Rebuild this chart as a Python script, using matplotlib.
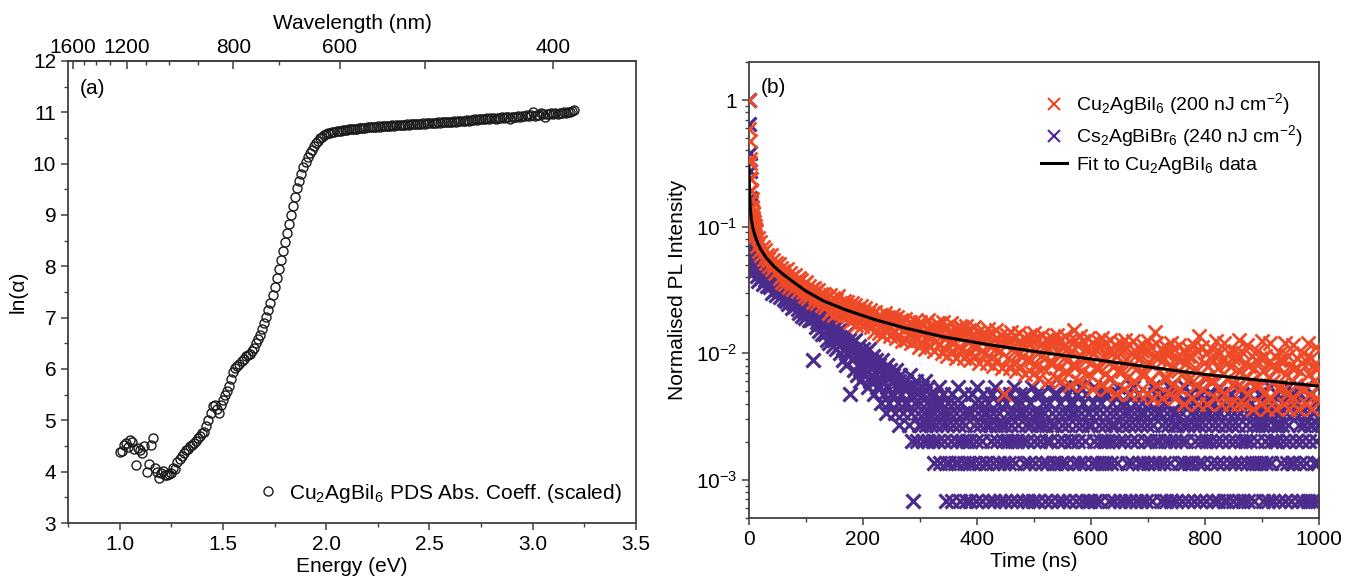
import numpy as np
import matplotlib
matplotlib.use('Agg')
import matplotlib.pyplot as plt
from matplotlib.ticker import MultipleLocator, FixedLocator, LogLocator, FuncFormatter, NullFormatter

plt.rcParams['font.family'] = ['Liberation Sans', 'DejaVu Sans']
plt.rcParams['mathtext.default'] = 'regular'
plt.rcParams['font.size'] = 15

# ---------------- (a) PDS absorption ----------------
# energy grid of the PDS scan (eV), one value every 0.01 eV
energy_start, energy_step = 1.00, 0.01
ln_alpha = [
    4.38, 4.40, 4.52, 4.56, 4.48, 4.62, 4.58, 4.45, 4.13, 4.47,
    4.42, 4.36, 4.50, 4.00, 4.15, 4.52, 4.66, 4.07, 4.00, 3.88,
    3.98, 4.02, 3.93, 3.94, 3.96, 3.98, 4.08, 4.05, 4.18, 4.25,
    4.30, 4.37, 4.42, 4.45, 4.50, 4.52, 4.56, 4.60, 4.65, 4.70,
    4.75, 4.78, 4.88, 5.00, 5.15, 5.27, 5.30, 5.22, 5.15, 5.30,
    5.40, 5.50, 5.58, 5.66, 5.80, 5.95, 6.02, 6.06, 6.10, 6.15,
    6.20, 6.25, 6.28, 6.30, 6.35, 6.40, 6.50, 6.58, 6.66, 6.78,
    6.90, 7.02, 7.14, 7.28, 7.45, 7.60, 7.78, 7.95, 8.12, 8.30,
    8.48, 8.65, 8.82, 9.00, 9.18, 9.36, 9.52, 9.66, 9.80, 9.93,
    10.04, 10.12, 10.20, 10.27, 10.34, 10.40, 10.45, 10.49, 10.52, 10.55,
    10.57, 10.59, 10.60, 10.61, 10.62, 10.63, 10.64, 10.64, 10.65, 10.66,
    10.66, 10.67, 10.67, 10.68, 10.68, 10.68, 10.69, 10.69, 10.70, 10.70,
    10.71, 10.71, 10.72, 10.71, 10.72, 10.73, 10.72, 10.73, 10.74, 10.73,
    10.74, 10.74, 10.75, 10.74, 10.75, 10.76, 10.75, 10.76, 10.76, 10.77,
    10.76, 10.77, 10.77, 10.78, 10.77, 10.78, 10.78, 10.79, 10.78, 10.79,
    10.79, 10.80, 10.79, 10.80, 10.81, 10.80, 10.81, 10.81, 10.82, 10.81,
    10.82, 10.82, 10.83, 10.82, 10.83, 10.84, 10.83, 10.84, 10.85, 10.84,
    10.85, 10.85, 10.86, 10.85, 10.86, 10.87, 10.86, 10.87, 10.88, 10.87,
    10.88, 10.88, 10.86, 10.89, 10.88, 10.90, 10.89, 10.90, 10.91, 10.87,
    10.90, 10.91, 10.90, 10.92, 10.91, 10.93, 10.92, 10.94, 10.93, 10.95,
    11.00, 10.93, 10.95, 10.94, 10.98, 10.96, 10.90, 10.97, 10.96, 10.98,
    10.97, 10.98, 10.97, 10.99, 10.98, 11.00, 10.99, 11.01, 11.00, 11.02,
    11.05]
energy = energy_start + energy_step*np.arange(len(ln_alpha))

wl_major = [1600, 1200, 800, 600, 500, 400]
wl_major_labels = ['1600', '1200', '800', '600', '', '400']
wl_minor = [1500, 1400, 1300, 1100, 1000, 900, 700]

# ---------------- (b) TRPL ----------------
# photon counts per bin; fast part every 0.5 ns from 0, slow part from 12 ns
fast_step = 0.5
slow_start = 12.0
red_step = 2.0
purple_step = 1.5

red_fast = [2500, 1480, 1190, 860, 790, 610, 600, 490, 480, 405, 410, 350,
            360, 312, 322, 282, 295, 258, 272, 240, 252, 226, 238, 212]
red_slow = [
    230, 175, 205, 160, 190, 150, 172, 140, 165, 128, 150, 138, 122, 148, 115, 136, 125, 108, 130, 112,
    126, 98, 118, 92, 112, 104, 88, 115, 96, 84, 108, 92, 100, 80, 104, 87, 95, 78, 99, 83,
    94, 76, 88, 71, 92, 78, 68, 85, 73, 80, 64, 82, 70, 77, 62, 79, 68, 74, 60, 72,
    74, 58, 70, 61, 52, 72, 63, 56, 68, 50, 66, 59, 71, 53, 62, 57, 48, 65, 55, 60,
    64, 49, 58, 44, 62, 52, 47, 60, 42, 56, 50, 45, 59, 41, 54, 48, 57, 43, 52, 46,
    55, 40, 51, 45, 37, 53, 43, 49, 36, 50, 41, 47, 35, 52, 44, 38, 48, 42, 34, 46,
    50, 37, 45, 33, 48, 40, 35, 46, 31, 43, 38, 47, 32, 41, 36, 44, 30, 42, 37, 34,
    45, 32, 41, 28, 44, 36, 30, 42, 27, 39, 34, 46, 29, 38, 33, 40, 26, 37, 31, 43,
    42, 29, 38, 25, 44, 33, 27, 40, 24, 36, 31, 43, 26, 35, 30, 39, 23, 34, 28, 41,
    39, 27, 36, 23, 41, 31, 25, 38, 22, 34, 29, 40, 24, 33, 28, 37, 21, 32, 26, 35,
    37, 25, 34, 21, 39, 29, 23, 36, 20, 32, 27, 38, 22, 31, 26, 35, 19, 30, 12, 33,
    35, 23, 32, 19, 37, 27, 21, 34, 18, 30, 25, 36, 20, 29, 24, 33, 17, 28, 22, 31,
    34, 22, 31, 17, 36, 26, 20, 33, 16, 29, 24, 35, 19, 28, 23, 32, 15, 27, 21, 30,
    33, 21, 30, 16, 35, 25, 19, 32, 15, 28, 23, 34, 18, 27, 22, 31, 14, 26, 20, 38,
    32, 20, 29, 15, 34, 24, 18, 31, 14, 27, 22, 33, 17, 26, 21, 30, 13, 25, 19, 28,
    31, 19, 28, 14, 33, 23, 17, 30, 13, 26, 21, 32, 16, 25, 20, 29, 12, 24, 18, 27,
    30, 18, 27, 13, 32, 22, 16, 29, 12, 25, 20, 31, 15, 24, 19, 28, 12, 23, 17, 26,
    29, 17, 26, 12, 31, 21, 15, 28, 11, 24, 37, 30, 14, 23, 18, 27, 11, 22, 16, 25,
    28, 16, 25, 12, 30, 20, 14, 27, 11, 23, 18, 29, 13, 22, 17, 26, 10, 21, 15, 24,
    27, 16, 24, 11, 29, 19, 14, 26, 10, 34, 17, 28, 13, 21, 16, 25, 10, 20, 15, 23,
    27, 15, 24, 11, 31, 19, 13, 25, 10, 22, 17, 30, 12, 21, 16, 25, 10, 20, 14, 23,
    26, 15, 23, 10, 32, 18, 13, 25, 10, 21, 16, 29, 12, 20, 15, 24, 9, 19, 14, 22,
    26, 14, 23, 10, 31, 18, 12, 24, 9, 21, 16, 30, 11, 20, 15, 24, 9, 19, 13, 22,
    25, 14, 22, 10, 30, 17, 12, 24, 9, 20, 15, 29, 11, 19, 14, 23, 9, 18, 13, 21,
    25, 13, 22, 10, 30, 17, 12, 23, 9, 20, 15, 28, 11, 19, 14]

purple_fast = [1480, 960, 560, 410, 250, 220, 160, 155, 128, 126, 106, 110,
               94, 97, 85, 90, 79, 84, 73, 78, 69, 74, 66, 71]
purple_slow = [
    # 12 - 298.5 ns
    78, 60, 71, 55, 66, 74, 58, 63, 52, 70, 61, 56, 67, 50, 62, 58,
    60, 49, 57, 44, 53, 62, 47, 51, 43, 56, 48, 52, 41, 55, 46, 50,
    49, 40, 46, 38, 52, 42, 36, 45, 39, 47, 34, 43, 37, 44, 35, 41,
    40, 33, 38, 31, 42, 35, 29, 37, 32, 39, 28, 34, 31, 36, 27, 33,
    32, 27, 30, 13, 28, 33, 24, 29, 26, 31, 22, 27, 25, 30, 21, 26,
    27, 21, 25, 19, 28, 22, 18, 24, 20, 26, 17, 23, 19, 25, 16, 21,
    22, 17, 20, 15, 23, 18, 13, 19, 16, 21, 12, 17, 15, 19, 7, 16,
    18, 13, 16, 11, 19, 14, 10, 15, 12, 17, 9, 14, 12, 16, 10, 13,
    15, 11, 13, 8, 16, 12, 9, 13, 10, 14, 7, 12, 9, 13, 8, 11,
    12, 8, 11, 6, 13, 9, 7, 10, 5, 12, 8, 10, 6, 11, 7, 9,
    10, 7, 9, 5, 11, 8, 6, 9, 4, 10, 7, 8, 5, 9, 6, 8,
    9, 6, 8, 4, 10, 7, 5, 3, 1, 8, 6, 9, 3, 7, 5, 4,
    # 300 - 385.5 ns
    6, 4, 8, 3, 7, 5, 9, 4, 6, 3, 8, 5, 7, 4, 6, 3,
    5, 2, 7, 4, 6, 3, 8, 5, 2, 6, 4, 7, 3, 5, 2, 1,
    4, 6, 2, 5, 3, 7, 1, 4, 6, 2, 5, 3, 8, 2, 4, 1,
    6, 3, 5, 2, 7, 4, 1, 3, 5, 2,
    # 387 - 999 ns
    3, 1, 5, 7, 2, 4, 6, 1, 3, 8, 5, 2, 4, 6, 1, 3, 7, 5, 2, 4,
    5, 2, 6, 1, 4, 3, 7, 2, 5, 1, 8, 4, 3, 6, 2, 5, 1, 4, 7, 3,
    2, 4, 1, 6, 3, 5, 2, 7, 1, 4, 3, 5, 8, 2, 6, 1, 3, 4, 5, 7,
    6, 3, 5, 1, 2, 7, 4, 3, 1, 5, 2, 6, 4, 8, 1, 3, 5, 2, 7, 4,
    1, 5, 3, 4, 7, 2, 6, 5, 1, 3, 4, 2, 8, 6, 3, 1, 5, 4, 2, 7,
    4, 2, 7, 3, 1, 5, 6, 2, 4, 1, 3, 8, 5, 2, 7, 4, 1, 6, 3, 5,
    3, 6, 2, 5, 1, 4, 7, 3, 2, 8, 5, 1, 4, 6, 2, 3, 7, 1, 5, 4,
    5, 1, 4, 2, 6, 3, 8, 1, 5, 2, 7, 4, 3, 1, 6, 2, 5, 3, 4, 7,
    2, 7, 3, 1, 5, 4, 2, 6, 3, 1, 4, 5, 7, 2, 8, 3, 1, 6, 4, 5,
    4, 3, 1, 6, 2, 5, 7, 4, 1, 3, 2, 8, 5, 4, 6, 1, 3, 7, 2, 5,
    1, 4, 6, 2, 5, 3, 1, 7, 4, 2, 6, 3, 5, 1, 8, 4, 2, 7, 3, 5,
    6, 2, 3, 5, 1, 4, 7, 2, 6, 3, 1, 5, 4, 8, 2, 3, 1, 7, 5, 4,
    3, 5, 1, 4, 7, 2, 6, 3, 1, 5, 4, 2, 8, 3, 6, 1, 4, 2, 7, 5,
    2, 6, 4, 1, 3, 5, 8, 2, 4, 1, 7, 3, 5, 2, 6, 4, 1, 3, 5, 7,
    5, 3, 2, 7, 4, 1, 6, 5, 3, 2, 4, 1, 8, 5, 7, 3, 2, 6, 1, 4,
    4, 1, 5, 3, 6, 2, 7, 4, 1, 5, 3, 2, 6, 8, 4, 1, 5, 3, 2, 7,
    1, 6, 3, 4, 2, 5, 1, 7, 3, 6, 2, 4, 5, 1, 8, 2, 3, 4, 7, 5,
    7, 2, 4, 1, 5, 3, 6, 2, 4, 1, 5, 8, 3, 2, 6, 1, 4, 3, 5, 7,
    3, 4, 1, 5, 2, 6, 4, 3, 7, 1, 5, 2, 8, 4, 3, 6, 1, 2, 5, 7,
    2, 5, 3, 6, 1, 4, 7, 2, 5, 3, 1, 4, 6, 2, 8, 5, 1, 3, 4, 7,
    4, 1, 5, 2, 6, 3, 1, 4, 2]

fit_t = [0, 1, 2, 4, 7, 10, 15, 20, 30, 45, 60, 80, 100, 130, 170, 220,
         270, 340, 420, 510, 600, 700, 800, 900, 1000]
fit_v = [0.30, 0.20, 0.15, 0.115, 0.097, 0.087, 0.075, 0.067, 0.057, 0.048,
         0.042, 0.036, 0.031, 0.026, 0.022, 0.0185, 0.0160, 0.0135, 0.0117,
         0.0102, 0.0090, 0.0078, 0.0068, 0.0061, 0.0055]

red_c = np.array(red_fast + red_slow, float)
red_t = np.concatenate([fast_step*np.arange(len(red_fast)),
                        slow_start + red_step*np.arange(len(red_slow))])
pur_c = np.array(purple_fast + purple_slow, float)
pur_t = np.concatenate([fast_step*np.arange(len(purple_fast)),
                        slow_start + purple_step*np.arange(len(purple_slow))])
red_n = red_c/red_c.max()
pur_n = pur_c/pur_c.max()

RED = '#ee4a28'
PURPLE = '#4b2b8c'
AXC = '0.25'

fig = plt.figure(figsize=(13.47, 5.79), dpi=100)

#### panel a
ax1 = fig.add_axes([0.0505, 0.0967, 0.4217, 0.798])
ax1.plot(energy, ln_alpha, 'o', ms=6.5, mfc='none', mec='0.1', mew=1.0,
         label='Cu$_2$AgBiI$_6$ PDS Abs. Coeff. (scaled)')
ax1.set_xlim(0.75, 3.5)
ax1.set_ylim(3, 12)
ax1.xaxis.set_major_locator(MultipleLocator(0.5))
ax1.xaxis.set_minor_locator(MultipleLocator(0.25))
ax1.xaxis.set_major_formatter(FuncFormatter(lambda v, p: '%.1f' % v))
ax1.yaxis.set_major_locator(MultipleLocator(1))
ax1.yaxis.set_minor_locator(MultipleLocator(0.5))
ax1.tick_params(which='both', direction='out', top=False, right=False, color=AXC)
ax1.tick_params(which='major', length=5, width=1.1)
ax1.tick_params(which='minor', length=3, width=1)
ax1.set_xlabel('Energy (eV)', labelpad=2)
ax1.set_ylabel('ln(α)', labelpad=4)
for s in ax1.spines.values():
    s.set_color(AXC)
    s.set_linewidth(1.3)
ax1.text(0.02, 0.94, '(a)', transform=ax1.transAxes, va='center', ha='left')
ax1.legend(loc='lower right', bbox_to_anchor=(0.975, 0.04), frameon=False,
           numpoints=1, borderpad=0, borderaxespad=0, handlelength=1.0,
           handletextpad=0.5)

def e2wl(e):
    with np.errstate(divide='ignore'):
        return 1239.84/np.asarray(e, float)

top = ax1.secondary_xaxis('top', functions=(e2wl, e2wl))
top.xaxis.set_major_locator(FixedLocator(wl_major))
top.xaxis.set_minor_locator(FixedLocator(wl_minor))
top.set_xticklabels(wl_major_labels)
top.tick_params(which='both', direction='in', color=AXC, pad=3)
top.tick_params(which='major', length=6, width=1.1)
top.tick_params(which='minor', length=3, width=1)
top.set_xlabel('Wavelength (nm)', labelpad=6)
top.spines['top'].set_color(AXC)
top.spines['top'].set_linewidth(1.3)

#### panel b
ax2 = fig.add_axes([0.556, 0.1054, 0.4232, 0.7876])
ax2.plot(pur_t, pur_n, 'x', ms=10, mew=2.3, color=PURPLE, zorder=2,
         label='Cs$_2$AgBiBr$_6$ (240 nJ cm$^{-2}$)')
ax2.plot(red_t, red_n, 'x', ms=10, mew=2.0, color=RED, zorder=3,
         label='Cu$_2$AgBiI$_6$ (200 nJ cm$^{-2}$)')
ax2.plot(fit_t, fit_v, '-', color='black', lw=2.2, zorder=4,
         label='Fit to Cu$_2$AgBiI$_6$ data')
ax2.set_yscale('log')
ax2.set_xlim(0, 1000)
ax2.set_ylim(5e-4, 2)
ax2.xaxis.set_major_locator(MultipleLocator(200))
ax2.xaxis.set_minor_locator(MultipleLocator(100))
ax2.yaxis.set_major_locator(LogLocator(base=10, numticks=10))
ax2.yaxis.set_minor_locator(LogLocator(base=10, subs=np.arange(2, 10), numticks=20))
ax2.yaxis.set_minor_formatter(NullFormatter())

def logfmt(v, p):
    e = int(round(np.log10(v)))
    return '1' if e == 0 else '10$^{%d}$' % e

ax2.yaxis.set_major_formatter(FuncFormatter(logfmt))
ax2.tick_params(which='both', direction='out', top=False, right=False, color=AXC)
ax2.tick_params(which='major', length=5, width=1.1)
ax2.tick_params(which='minor', length=3, width=1)
ax2.set_xlabel('Time (ns)', labelpad=2)
ax2.set_ylabel('Normalised PL Intensity', labelpad=6)
for s in ax2.spines.values():
    s.set_color(AXC)
    s.set_linewidth(1.3)
ax2.text(0.02, 0.945, '(b)', transform=ax2.transAxes, va='center', ha='left')
h, l = ax2.get_legend_handles_labels()
leg = ax2.legend([h[1], h[0], h[2]], [l[1], l[0], l[2]], loc='upper left',
                 bbox_to_anchor=(0.512, 0.935), frameon=False, fontsize=14,
                 borderpad=0, borderaxespad=0, handlelength=1.35, handletextpad=0.45,
                 labelspacing=0.3, numpoints=1, markerscale=0.8)
for lh in leg.legend_handles[:2]:
    lh.set_markeredgewidth(1.5)

fig.savefig('out.png', dpi=100)
